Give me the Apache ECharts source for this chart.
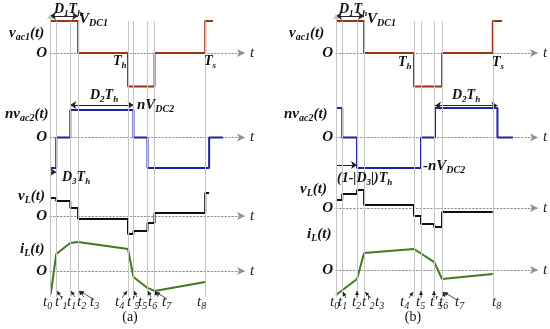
<!DOCTYPE html>
<html><head><meta charset="utf-8">
<script src="https://cdn.jsdelivr.net/npm/echarts@6/dist/echarts.min.js"></script>
<style>html,body{margin:0;padding:0;background:#fff}#c{width:550px;height:329px}</style>
</head><body><div id="c"></div>
<script>
// ---------------- data (time in units of Th) ----------------
// panel (a)
const A_vac1_t  = [0, 0.36, 1.0, 1.34, 1.99, 2.09];
const A_vac1_v  = [1, 0, -1.05, 0, 1, 1];
const A_nvac2_t = [0, 0.08, 0.26, 1.07, 1.25, 2.04, 2.22];
const A_nvac2_v = [-1.05, 0, 0.95, 0, -1.05, 0, 0];
const A_vL_t    = [0, 0.08, 0.26, 0.36, 1.0, 1.07, 1.25, 1.34, 1.99, 2.04];
const A_vL_v    = [1.2, 1.0, 0.53, -0.2, -1.2, -1.0, -0.47, 0.2, 1.53, 1.53];
const A_iL_t    = [0.01, 0.08, 0.26, 0.36, 1.0, 1.07, 1.25, 1.34, 1.99];
const A_iL_v    = [-1.53, 1.13, 1.87, 1.93, 1.47, -0.4, -1.13, -1.33, -0.73];
const A_events  = [0.08, 0.26, 0.36, 1.0, 1.07, 1.25, 1.34, 1.99];
const A_ticks   = [["t","0"],["t'","1"],["t","1"],["t","2"],["t","3"],["t","4"],["t'","5"],["t","5"],["t","6"],["t","7"],["t","8"]];
// panel (b)
const B_vac1_t  = [0, 0.36, 1.0, 1.36, 2.01, 2.13];
const B_vac1_v  = [1, 0, -1.05, 0, 1, 1];
const B_nvac2_t = [0, 0.08, 0.27, 1.09, 1.27, 2.07, 2.27];
const B_nvac2_v = [1.02, 0, -1.05, 0, 1.02, 0, 0];
const B_vL_t    = [0, 0.08, 0.27, 0.36, 1.0, 1.09, 1.26, 1.36, 2.01];
const B_vL_v    = [0.53, 0.93, 1.2, 0.2, -0.53, -1.07, -1.27, -0.27, -0.27];
const B_iL_t    = [0, 0.27, 0.36, 1.0, 1.26, 1.36, 2.01];
const B_iL_v    = [-1.67, -0.6, 1.13, 1.4, 0.53, -0.6, -0.27];
const B_events  = [0.08, 0.27, 0.36, 1.0, 1.09, 1.26, 1.36, 2.01];
const B_ticks   = [["t","0"],["t","1"],["t","2"],["t'","2"],["t","3"],["t","4"],["t","5"],["t'","5"],["t","6"],["t","7"],["t","8"]];
// duration annotations [start, end]
const A_D1 = [0, 0.36], A_D2 = [0.26, 1.07], A_D3 = [0, 0.08];
const B_D1 = [0, 0.36], B_D2 = [1.27, 2.07], B_D3 = [0, 0.27];

// ---------------- layout / style ----------------
const FAM = '"Liberation Serif", "Times New Roman", serif';
const C_VAC1 = '#9a3414', C_NVAC2 = '#1e22a6', C_VL = '#111111', C_IL = '#3f7a1e';
const PANELS = [
  { left: 50,  width: 195, max: 2.5,  zeros: [53, 137.5, 216, 271] },
  { left: 336, width: 202, max: 2.59, zeros: [53, 137.5, 208, 270] }
];
const ROWS = [ { scale: 32, lim: 1.5, iv: 0.5 }, { scale: 29, lim: 1.5, iv: 0.5 },
               { scale: 15, lim: 2, iv: 1 }, { scale: 15, lim: 2, iv: 1 } ];
const FULL_TOP = 14, FULL_BOTTOM = 297;

const zip = (t, v) => t.map((x, i) => [x, v[i]]);
const grids = [], xAxes = [], yAxes = [], series = [];

PANELS.forEach((P, p) => {
  ROWS.forEach((R, r) => {
    const g = grids.length;
    grids.push({ left: P.left, width: P.width, top: P.zeros[r] - R.lim * R.scale,
                 height: 2 * R.lim * R.scale, containLabel: false, outerBoundsMode: 'none' });
    xAxes.push({ type: 'value', gridIndex: g, min: 0, max: P.max,
      axisLine: { show: true, onZero: true, symbol: ['none', 'arrow'], symbolSize: [6, 8],
                  lineStyle: { color: '#8f8f8f', type: [1.5, 2], width: 1 } },
      axisTick: { show: false }, axisLabel: { show: false }, splitLine: { show: false },
      name: 't', nameLocation: 'end', nameGap: 5,
      nameTextStyle: { fontFamily: FAM, fontStyle: 'italic', fontSize: 15, color: '#222' } });
    yAxes.push({ type: 'value', gridIndex: g, min: -R.lim, max: R.lim, interval: R.iv,
      axisLine: { show: false }, axisTick: { show: false }, splitLine: { show: false },
      axisLabel: { show: true, margin: 3, formatter: v => (v === 0 ? 'O' : ''),
                   fontFamily: FAM, fontStyle: 'italic', fontWeight: 'bold', fontSize: 15, color: '#111' } });
  });
  const g = grids.length;
  grids.push({ left: P.left, width: P.width, top: FULL_TOP, height: FULL_BOTTOM - FULL_TOP,
               containLabel: false, outerBoundsMode: 'none' });
  xAxes.push({ type: 'value', gridIndex: g, min: 0, max: P.max, show: false });
  yAxes.push({ type: 'value', gridIndex: g, min: 0, max: 1, show: false });
});

function stepSeries(g, t, v, color, step, arrows) {
  const s = { type: 'line', xAxisIndex: g, yAxisIndex: g, data: zip(t, v), step: step ? 'end' : false,
    showSymbol: false, symbol: 'none', clip: false, z: 3, silent: true, animation: false,
    lineStyle: { color: color, width: 2 } };
  if (arrows) s.markLine = { silent: true, animation: false, symbolSize: 6,
    label: { show: false }, lineStyle: { color: '#222', width: 1, type: 'solid' }, data: arrows };
  return s;
}
function dArrow(span, y, both) {
  return [{ coord: [span[0], y], symbol: both ? 'arrow' : 'none' }, { coord: [span[1], y], symbol: 'arrow' }];
}
function eventSeries(g, events) {
  const data = events.map(t => [{ coord: [t, 0] }, { coord: [t, 0.975] }]);
  data.push([{ coord: [0, 0], symbol: 'none' }, { coord: [0, 1], symbol: 'arrow' }]);
  return { type: 'line', xAxisIndex: g, yAxisIndex: g, data: [], z: 1, silent: true, animation: false,
    markLine: { silent: true, animation: false, symbol: 'none', symbolSize: [5, 6], label: { show: false },
      lineStyle: { color: '#c6c6c6', width: 1, type: 'solid' }, data: data } };
}
// panel a
series.push(stepSeries(0, A_vac1_t, A_vac1_v, C_VAC1, true, [dArrow(A_D1, 1.16, true)]));
series.push(stepSeries(1, A_nvac2_t, A_nvac2_v, C_NVAC2, true, [dArrow(A_D2, 1.12, true), dArrow(A_D3, -1.19, false)]));
series.push(stepSeries(2, A_vL_t, A_vL_v, C_VL, true));
series.push(stepSeries(3, A_iL_t, A_iL_v, C_IL, false));
series.push(eventSeries(4, A_events));
// panel b
series.push(stepSeries(5, B_vac1_t, B_vac1_v, C_VAC1, true, [dArrow(B_D1, 1.16, true)]));
series.push(stepSeries(6, B_nvac2_t, B_nvac2_v, C_NVAC2, true, [dArrow(B_D2, 1.1, true), dArrow(B_D3, -0.95, false)]));
series.push(stepSeries(7, B_vL_t, B_vL_v, C_VL, true));
series.push(stepSeries(8, B_iL_t, B_iL_v, C_IL, false));
series.push(eventSeries(9, B_events));

// ---------------- text annotations ----------------
const mctx = document.createElement('canvas').getContext('2d');
function txt(parts, x, y, o) {
  o = o || {};
  const size = o.size || 14, sub = o.sub || Math.round(size * 0.66);
  const weight = o.weight || 'bold', fst = o.style || 'italic', color = o.color || '#111';
  let w = 0; const m = [];
  parts.forEach(pp => {
    const fs = pp[1] === 's' ? sub : size;
    mctx.font = fst + ' ' + weight + ' ' + fs + 'px ' + FAM;
    const ww = mctx.measureText(pp[0]).width; m.push([pp[0], pp[1], fs, ww]); w += ww;
  });
  let cx = o.center ? x - w / 2 : x;
  return m.map(([s, k, fs, ww]) => {
    const el = { type: 'text', x: cx, y: k === 's' ? y + size * 0.3 : y, silent: true, z: 10,
      style: { text: s, fontSize: fs, fontFamily: FAM, fontWeight: weight, fontStyle: fst,
               fill: color, align: 'left', verticalAlign: 'middle' } };
    cx += ww; return el;
  });
}
function arrow(x1, y1, x2, y2) {
  const a = Math.atan2(y2 - y1, x2 - x1), L = 4, s = 2;
  return [{ type: 'line', silent: true, z: 10, shape: { x1, y1, x2, y2 }, style: { stroke: '#222', lineWidth: 0.8 } },
    { type: 'polygon', silent: true, z: 10, shape: { points: [[x2, y2],
      [x2 - L * Math.cos(a) + s * Math.sin(a), y2 - L * Math.sin(a) - s * Math.cos(a)],
      [x2 - L * Math.cos(a) - s * Math.sin(a), y2 - L * Math.sin(a) + s * Math.cos(a)]] }, style: { fill: '#222' } }];
}
const N = 'n', S = 's';
let G = [];
// panel (a) labels
G = G.concat(txt([['v',N],['ac1',S],['(t)',N]], 9, 33, { size: 15 }));
G = G.concat(txt([['D',N],['1',S],['T',N],['h',S]], 54, 9, { size: 14 }));
G = G.concat(txt([['V',N],['DC1',S]], 79, 19, { size: 15 }));
G = G.concat(txt([['T',N],['h',S]], 113, 61, { size: 14 }));
G = G.concat(txt([['T',N],['s',S]], 204, 61, { size: 14 }));
G = G.concat(txt([['D',N],['2',S],['T',N],['h',S]], 90, 95, { size: 14 }));
G = G.concat(txt([['nV',N],['DC2',S]], 137, 105, { size: 15 }));
G = G.concat(txt([['nv',N],['ac2',S],['(t)',N]], 5, 114, { size: 15 }));
G = G.concat(txt([['D',N],['3',S],['T',N],['h',S]], 62, 177, { size: 14 }));
G = G.concat(txt([['v',N],['L',S],['(t)',N]], 18, 196, { size: 15 }));
G = G.concat(txt([['i',N],['L',S],['(t)',N]], 20, 249, { size: 15 }));
G = G.concat(txt([['(a)',N]], 130, 317, { size: 14, weight: 'normal', style: 'normal', center: true }));
// panel (b) labels
G = G.concat(txt([['v',N],['ac1',S],['(t)',N]], 289, 33, { size: 15 }));
G = G.concat(txt([['D',N],['1',S],['T',N],['h',S]], 339, 9, { size: 14 }));
G = G.concat(txt([['V',N],['DC1',S]], 367, 19, { size: 15 }));
G = G.concat(txt([['T',N],['h',S]], 398, 62, { size: 14 }));
G = G.concat(txt([['T',N],['s',S]], 492, 62, { size: 14 }));
G = G.concat(txt([['D',N],['2',S],['T',N],['h',S]], 452, 95, { size: 14 }));
G = G.concat(txt([['nv',N],['ac2',S],['(t)',N]], 284, 114, { size: 15 }));
G = G.concat(txt([['-nV',N],['DC2',S]], 423, 166, { size: 15 }));
G = G.concat(txt([['(1-|D',N],['3',S],['|)T',N],['h',S]], 337, 178, { size: 14 }));
G = G.concat(txt([['v',N],['L',S],['(t)',N]], 300, 189, { size: 15 }));
G = G.concat(txt([['i',N],['L',S],['(t)',N]], 307, 234, { size: 15 }));
G = G.concat(txt([['(b)',N]], 413, 317, { size: 14, weight: 'normal', style: 'normal', center: true }));
// time labels
const A_tickX = [43, 55, 67, 77, 90, 115, 127, 138, 148, 162, 197];
const B_tickX = [330, 338, 352, 362, 375, 400, 416, 430, 439, 455, 492];
A_ticks.forEach((tk, i) => { G = G.concat(txt([[tk[0], N], [tk[1], S]], A_tickX[i], 302, { size: 15, weight: 'normal', color: '#222' })); });
B_ticks.forEach((tk, i) => { G = G.concat(txt([[tk[0], N], [tk[1], S]], B_tickX[i], 302, { size: 15, weight: 'normal', color: '#222' })); });
[[61,297,57,291],[75,297,71,291],[84,297,79,291],[93,299,80,291],[122,298,127,291],
 [137,297,134,291],[151,297,148,291],[158,297,155,291],[167,299,156,292],
 [346,298,343,292],[357,298,357,291],[371,298,365,292],[409,298,413,292],[421,298,421,291],
 [434,298,434,291],[445,297,443,292],[457,300,444,292]].forEach(a => { G = G.concat(arrow(a[0], a[1], a[2], a[3])); });

const chart = echarts.init(document.getElementById('c'), null, { renderer: 'canvas' });
chart.setOption({ animation: false, backgroundColor: '#ffffff',
  grid: grids, xAxis: xAxes, yAxis: yAxes, series: series, graphic: { elements: G } });
</script></body></html>
